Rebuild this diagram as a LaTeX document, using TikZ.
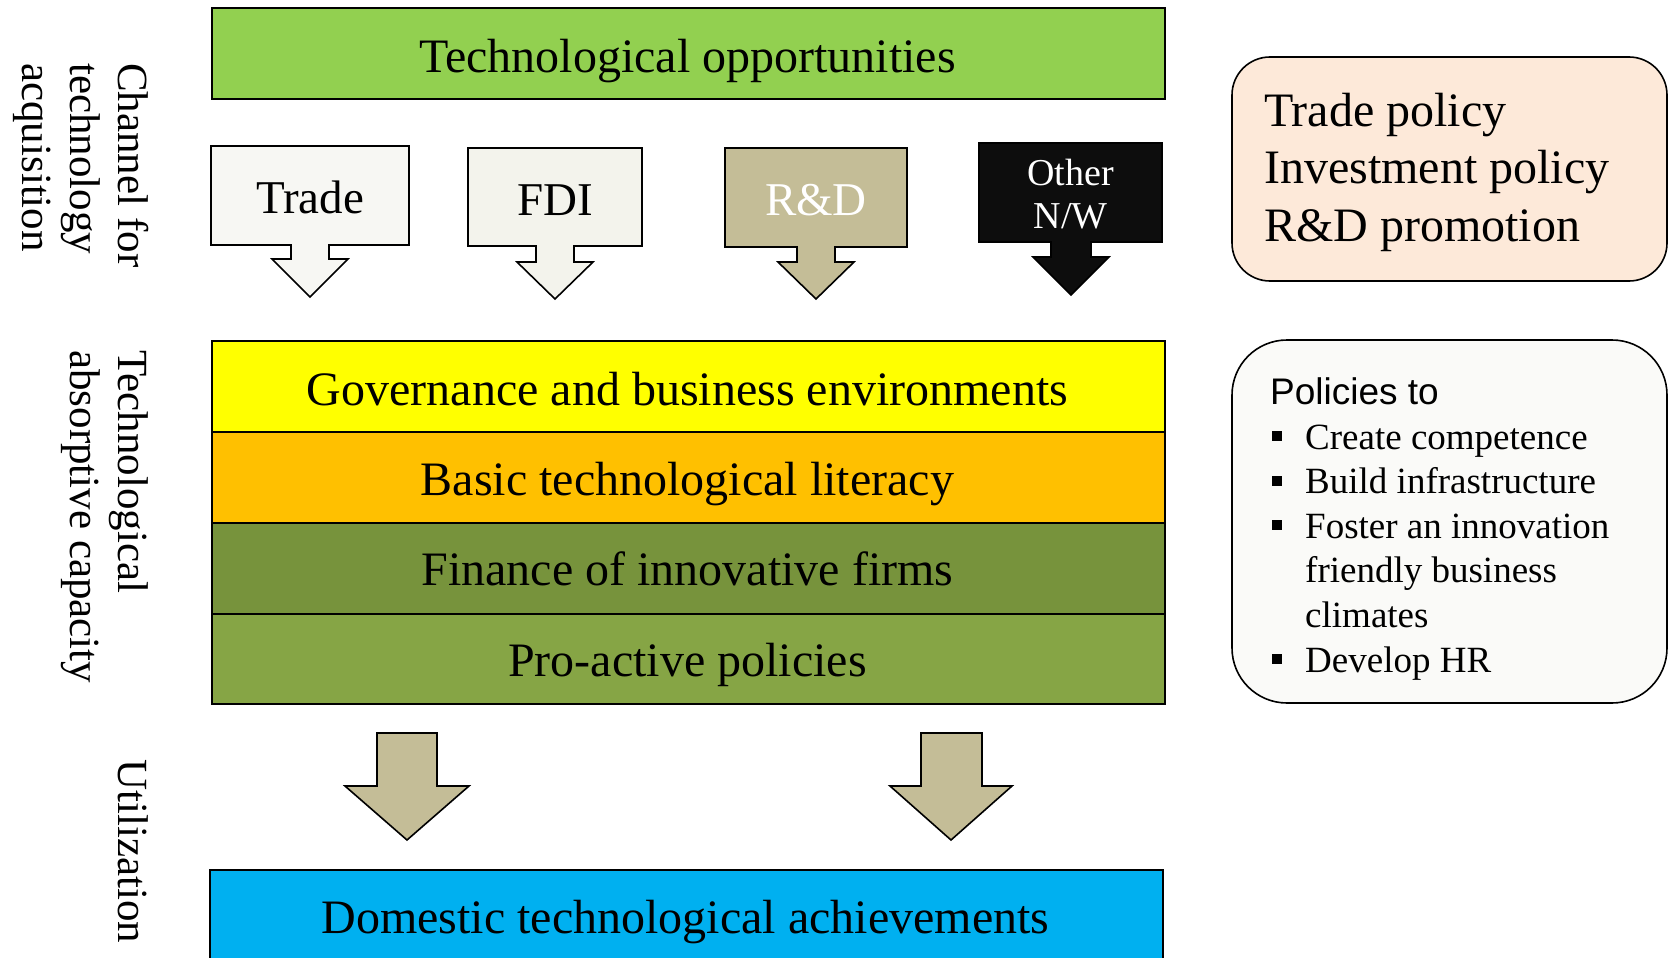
\documentclass[tikz,border=0pt]{standalone}
\usepackage{fontspec}
\setmainfont{Liberation Serif}
\newfontfamily\arialf{Liberation Sans}
\definecolor{topgreen}{HTML}{92D050}
\definecolor{yellowc}{HTML}{FFFF00}
\definecolor{orangec}{HTML}{FFC000}
\definecolor{finc}{HTML}{77933C}
\definecolor{proc}{HTML}{86A545}
\definecolor{bluec}{HTML}{00B0F0}
\definecolor{tanc}{HTML}{C4BD97}
\definecolor{tradef}{HTML}{F7F7F3}
\definecolor{fdif}{HTML}{F3F3EC}
\definecolor{blackc}{HTML}{0D0D0D}
\definecolor{peach}{HTML}{FDE9D9}
\definecolor{offwhite}{HTML}{FAFAF8}
\begin{document}
\begin{tikzpicture}[x=1pt,y=-1pt,
  box/.style={draw=black, line width=1.6pt},
  layer/.style={box, anchor=north west, inner sep=0pt, minimum width=953pt, minimum height=91pt},
  rbox/.style={draw=black, line width=1.6pt},
  bigtxt/.style={font=\fontsize{48}{54}\selectfont, inner sep=0pt, anchor=base},
  chtxt/.style={font=\fontsize{47}{54}\selectfont, inner sep=0pt, anchor=base},
  smtxt/.style={font=\fontsize{38}{43}\selectfont, inner sep=0pt, anchor=base, text=white},
  pol/.style={font=\fontsize{48}{54}\selectfont, inner sep=0pt, anchor=base west},
  item/.style={font=\fontsize{37}{44}\selectfont, inner sep=0pt, anchor=base west},
  side/.style={font=\fontsize{43}{48}\selectfont, inner sep=0pt, anchor=base west, rotate=-90},
  bul/.style={fill=black, draw=none, minimum size=10pt, inner sep=0pt}
]
\useasboundingbox (0,0) rectangle (1671,958);

% left rotated labels
\node[side] (c1) at (118,63) {Channel for};
\node[side] (c2) at (70,63) {technology};
\node[side] (c3) at (22,63) {acquisition};
\node[side] (a1) at (118,350) {Technological};
\node[side] (a2) at (70,350) {absorptive capacity};
\node[side] (u1) at (118,759) {Utilization};

% top box
\node[layer, fill=topgreen, minimum height=91pt] (opp) at (211,7) {};
\node[bigtxt] (opptxt) at (687.5,73) {Technological opportunities};

% channel callouts
\draw[box, fill=tradef] (211,146) -- (409,146) -- (409,245) -- (329,245) -- (329,259) -- (348,259)
  -- (310,297) -- (272,259) -- (291,259) -- (291,245) -- (211,245) -- cycle;
\node[chtxt] (trade) at (310,213) {Trade};

\draw[box, fill=fdif] (468,148) -- (642,148) -- (642,246) -- (574,246) -- (574,262) -- (593,262)
  -- (555,299) -- (517,262) -- (536,262) -- (536,246) -- (468,246) -- cycle;
\node[chtxt] (fdi) at (555,215) {FDI};

\draw[box, fill=tanc] (725,148) -- (907,148) -- (907,247) -- (835,247) -- (835,262) -- (854,262)
  -- (816,299) -- (778,262) -- (797,262) -- (797,247) -- (725,247) -- cycle;
\node[chtxt, text=white] (rd) at (816,215) {R\&D};

\draw[box, fill=blackc] (979,143) -- (1162,143) -- (1162,242) -- (1091,242) -- (1091,257) -- (1109,257)
  -- (1071,295) -- (1033,257) -- (1051,257) -- (1051,242) -- (979,242) -- cycle;
\node[smtxt] (oth1) at (1070.5,185) {Other};
\node[smtxt] (oth2) at (1070.5,228) {N/W};

% absorptive capacity stack
\node[layer, fill=yellowc] (gov) at (211,340) {};
\node[layer, fill=orangec] (lit) at (211,431) {};
\node[layer, fill=finc] (fin) at (211,522) {};
\node[layer, fill=proc, minimum height=90pt] (pro) at (211,613) {};
\node[bigtxt] (govtxt) at (687.5,405) {Governance and business environments};
\node[bigtxt] (littxt) at (687.5,495) {Basic technological literacy};
\node[bigtxt] (fintxt) at (687.5,585) {Finance of innovative firms};
\node[bigtxt] (protxt) at (687.5,676) {Pro-active policies};

% utilization arrows
\draw[box, fill=tanc] (377,733) -- (437,733) -- (437,786) -- (469,786) -- (407,840) -- (345,786) -- (377,786) -- cycle;
\draw[box, fill=tanc] (921,733) -- (982,733) -- (982,786) -- (1012,786) -- (951,840) -- (890,786) -- (921,786) -- cycle;

% domestic achievements
\node[box, fill=bluec, anchor=north west, inner sep=0pt, minimum width=953pt, minimum height=100pt] (dom) at (209,869) {};
\node[bigtxt] (domtxt) at (685.5,933) {Domestic technological achievements};

% right policy boxes
\draw[rbox, fill=peach, rounded corners=38pt] (1232,57) rectangle (1667,281);
\node[pol] (p1) at (1264,126) {Trade policy};
\node[pol] (p2) at (1264,183.5) {Investment policy};
\node[pol] (p3) at (1264,241) {R\&D promotion};

\draw[rbox, fill=offwhite, rounded corners=55pt] (1232,340) rectangle (1667,703);
\node[item, font=\arialf\fontsize{37}{44}\selectfont] (ptitle) at (1270,404) {Policies to};
\node[bul] (b1) at (1277,436) {};
\node[item] (i1) at (1305,449) {Create competence};
\node[bul] (b2) at (1277,480.5) {};
\node[item] (i2) at (1305,493.5) {Build infrastructure};
\node[bul] (b3) at (1277,525) {};
\node[item] (i3) at (1305,538) {Foster an innovation};
\node[item] (i3b) at (1305,582.5) {friendly business};
\node[item] (i3c) at (1305,627) {climates};
\node[bul] (b4) at (1277,659) {};
\node[item] (i4) at (1305,672) {Develop HR};
\end{tikzpicture}
\end{document}
